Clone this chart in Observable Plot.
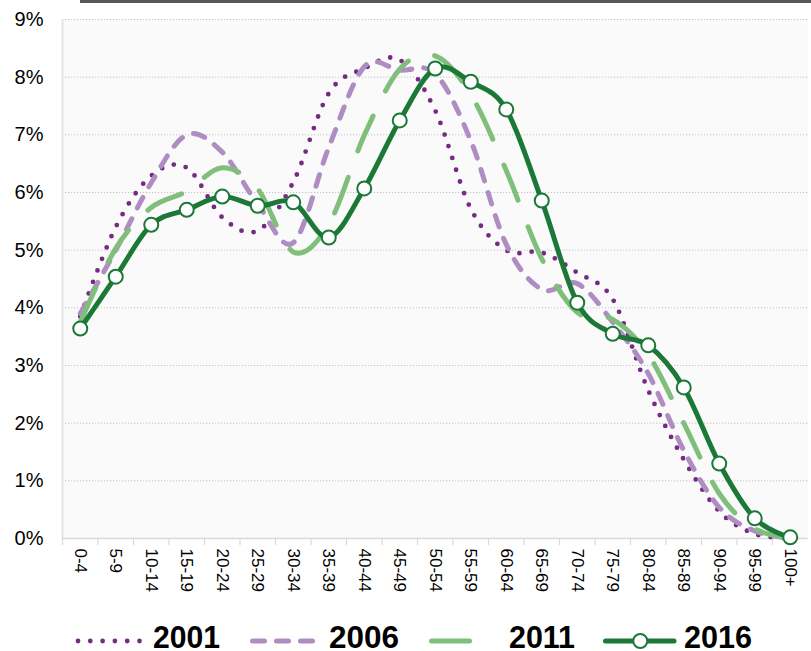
<!DOCTYPE html>
<html><head><meta charset="utf-8">
<script src="https://cdn.jsdelivr.net/npm/d3@7"></script>
<script src="https://cdn.jsdelivr.net/npm/@observablehq/plot@0.6"></script>
<style>
html,body{margin:0;padding:0;background:#fff;overflow:hidden;}
#wrap{position:relative;width:811px;height:651px;overflow:hidden;}
#topbar{position:absolute;left:80px;top:0;width:731px;height:3px;background:#595959;}
#chart svg,#legend svg{display:block;}
</style></head><body>
<div id="wrap"><div id="topbar"></div><div id="chart"></div><div id="legend"></div></div>
<script>
const ages = ["0-4","5-9","10-14","15-19","20-24","25-29","30-34","35-39","40-44","45-49","50-54","55-59","60-64","65-69","70-74","75-79","80-84","85-89","90-94","95-99","100+"];
const years = ["2001","2006","2011","2016"];
const v2001 = [3.85,5.40,6.29,6.43,5.57,5.34,6.18,7.72,8.15,8.30,7.42,5.72,5.00,4.96,4.61,4.15,2.57,1.37,0.47,0.08,0.01];
const v2006 = [3.90,5.00,6.17,7.00,6.70,5.80,5.13,6.78,8.18,8.12,8.06,6.90,5.10,4.32,4.42,3.75,2.86,1.53,0.54,0.13,0.01];
const v2011 = [3.75,5.03,5.74,6.02,6.43,6.06,4.97,5.45,6.99,8.14,8.37,7.70,6.38,4.85,3.92,3.80,3.19,2.00,0.78,0.17,0.02];
const v2016 = [3.64,4.54,5.44,5.70,5.93,5.77,5.83,5.22,6.07,7.25,8.15,7.92,7.44,5.86,4.09,3.55,3.35,2.62,1.30,0.35,0.02];
const yTicks = [0,1,2,3,4,5,6,7,8,9];

const seriesValues = [v2001, v2006, v2011, v2016];
const colors = ["#762a83", "#af8dc3", "#7fbf7b", "#1b7837"];
const dashes = ["0 12.3", "12 12", "38 28", null];
const widths = [4.8, 5, 5, 5];

const rows = years.map((yr, k) => ages.map((a, i) => ({age: a, year: yr, value: seriesValues[k][i]})));

const W = 811, H = 610, mL = 62, mR = 3.5, mT = 19, mB = 72;
const half = (W - mL - mR) / ages.length / 2;
const font = "Liberation Sans, Arial, Helvetica, sans-serif";

const lineMarks = years.map((yr, k) => Plot.line(rows[k], {
  x: "age", y: "value", curve: "cardinal",
  stroke: colors[k], strokeWidth: widths[k],
  strokeDasharray: dashes[k] || undefined,
  strokeLinecap: "round", strokeLinejoin: "round"
}));

const chart = Plot.plot({
  width: W, height: H, marginTop: mT, marginBottom: mB, marginLeft: mL, marginRight: mR,
  style: {fontFamily: font, background: "transparent", overflow: "visible", color: "#000"},
  x: {type: "point", domain: ages, padding: 0.5, round: false},
  y: {domain: [0, 9]},
  marks: [
    Plot.frame({fill: "#fafafa", stroke: null}),
    Plot.ruleY(yTicks.filter(d => d > 0), {stroke: "#c4c4c4", strokeDasharray: "1.2 1.8"}),
    Plot.ruleX([ages[0]], {y1: 0, y2: 9, dx: -half, stroke: "#e4e4e4", strokeWidth: 2}),
    Plot.ruleY([0], {stroke: "#d9d9d9", strokeWidth: 1.5}),
    Plot.ruleX(ages, {x: d => d, y1: 0, y2: -0.12, dx: -half, stroke: "#d9d9d9", strokeWidth: 1.2}),
    Plot.axisY({ticks: yTicks, tickSize: 0, tickPadding: 19, tickFormat: d => d + "%", fontSize: 20, label: null}),
    Plot.axisX({tickSize: 0, tickRotate: 90, tickPadding: 10, fontSize: 17, label: null}),
    ...lineMarks,
    Plot.dot(rows[3], {x: "age", y: "value", r: 7, fill: "white", stroke: colors[3], strokeWidth: 2})
  ]
});
document.getElementById("chart").appendChild(chart);

// legend
const lg = d3.select("#legend").append("svg").attr("width", W).attr("height", 41);
const items = [
  {x1: 78, x2: 141, tx: 153, tl: 67},
  {x1: 252.5, x2: 315, tx: 329, tl: 70},
  {x1: 431.5, x2: 497, tx: 509, tl: 66},
  {x1: 605.5, x2: 674, tx: 684, tl: 68}
];
const ly = 31;
items.forEach((it, k) => {
  lg.append("line").attr("x1", it.x1).attr("x2", it.x2).attr("y1", ly).attr("y2", ly)
    .attr("stroke", colors[k]).attr("stroke-width", widths[k])
    .attr("stroke-linecap", "round")
    .attr("stroke-dasharray", dashes[k]);
  if (k === 3) {
    lg.append("circle").attr("cx", (it.x1 + it.x2) / 2 + 0.5).attr("cy", ly).attr("r", 7)
      .attr("fill", "white").attr("stroke", colors[3]).attr("stroke-width", 2);
  }
  lg.append("text").attr("x", it.tx).attr("y", 38)
    .attr("font-family", font).attr("font-weight", "bold").attr("font-size", 32)
    .attr("textLength", it.tl).attr("lengthAdjust", "spacingAndGlyphs")
    .attr("fill", "#000").text(years[k]);
});
</script>
</body></html>
